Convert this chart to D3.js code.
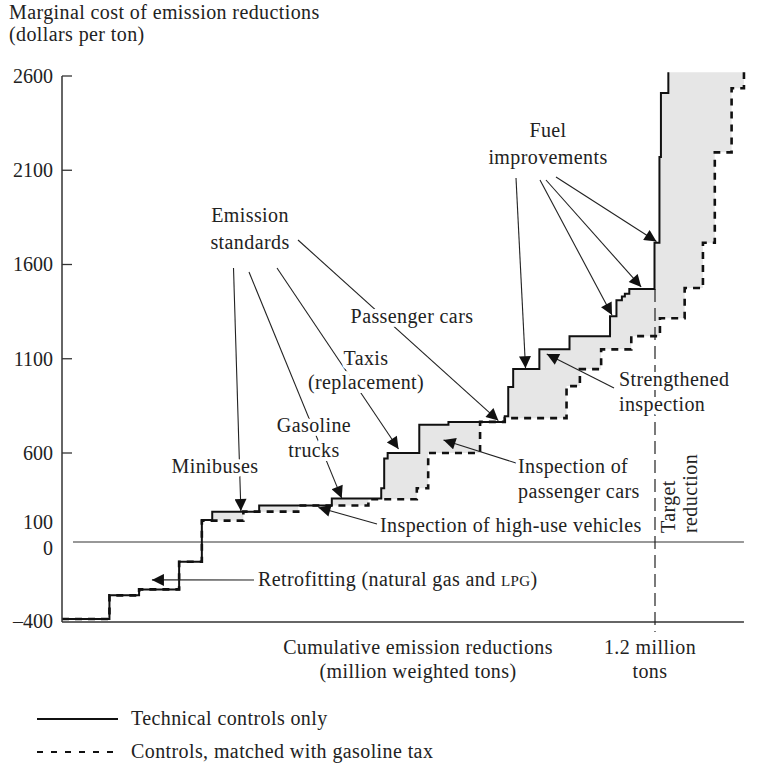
<!DOCTYPE html>
<html><head><meta charset="utf-8">
<script src="https://cdn.jsdelivr.net/npm/d3@7/dist/d3.min.js"></script>
<style>
body{margin:0;background:#fff;}
text{font-family:"Liberation Serif","Times New Roman",serif;fill:#222;letter-spacing:0.4px;}
</style></head>
<body><svg id="c" width="782" height="764"></svg>
<script>
// ---- data (million weighted tons, dollars per ton) ----
const techX    = [0, 0.096, 0.156, 0.237, 0.283, 0.304, 0.399, 0.546, 0.646, 0.652, 0.659, 0.723, 0.782, 0.896, 0.903, 0.913, 0.966, 1.027, 1.109, 1.122, 1.133, 1.139, 1.148, 1.199, 1.209, 1.212, 1.227];
const techCost = [-390, -270, -240, -100, 115, 175, 220, 270, 345, 560, 600, 750, 765, 795, 950, 1045, 1150, 1220, 1325, 1410, 1430, 1445, 1470, 1715, 2170, 2510, 2620];
const taxX     = [0, 0.096, 0.156, 0.237, 0.283, 0.367, 0.478, 0.620, 0.718, 0.741, 0.846, 0.896, 1.021, 1.048, 1.091, 1.152, 1.210, 1.260, 1.297, 1.321, 1.355, 1.380];
const taxCost  = [-390, -270, -240, -100, 110, 175, 220, 265, 345, 600, 765, 785, 955, 1045, 1150, 1220, 1315, 1475, 1715, 2195, 2535, 2620];
const yTickValues = [2600, 2100, 1600, 1100, 600, 100, 0, -400];
const yTickLabels = ["2600", "2100", "1600", "1100", "600", "100", "0", "\u2013400"];
const yTickMarks  = [2600, 2100, 1600, 1100, 600];
const targetReduction = 1.2;
const xMax = 1.38;
// annotation arrow tips, in data units [x, cost]
const arrowTips = {
  minibuses:[0.362,180], trucks:[0.566,273], taxis:[0.681,621], passenger:[0.883,772],
  fuel1:[0.938,1050], fuel2:[1.113,1332], fuel3:[1.172,1481], fuel4:[1.203,1722],
  strength:[0.981,1125], inspPC:[0.772,669], highUse:[0.519,205], retro:[0.182,-192]
};

const svg = d3.select("#c");
const x = d3.scaleLinear().domain([0, targetReduction]).range([62, 655]);
const y = d3.scaleLinear().domain([-400, 0, 100, 600, 2600]).range([621, 542, 522, 453, 76]);

function expand(xs, ys){
  const p=[];
  for(let i=0;i<xs.length;i++){ p.push([xs[i],ys[i]]); if(i+1<xs.length) p.push([xs[i+1],ys[i]]); }
  return p;
}
const poly = expand(techX, techCost).concat(expand(taxX, taxCost).reverse());
const lineXY = d3.line().x(d=>x(d[0])).y(d=>y(d[1]));
svg.append("path").attr("d", lineXY(poly)+"Z").attr("fill","#e6e6e6").attr("stroke","none");

// zero line & bottom axis
svg.append("line").attr("x1",73).attr("x2",x(xMax)).attr("y1",y(0)).attr("y2",y(0)).attr("stroke","#333").attr("stroke-width",1.2);
svg.append("line").attr("x1",x(0)).attr("x2",x(xMax)).attr("y1",y(-400)+1).attr("y2",y(-400)+1).attr("stroke","#333").attr("stroke-width",1.5);
// target line
svg.append("line").attr("x1",x(targetReduction)).attr("x2",x(targetReduction)).attr("y1",y(1470)).attr("y2",y(-400)+11)
  .attr("stroke","#222").attr("stroke-width",1.2).attr("stroke-dasharray","13,6");

const step = d3.line().x(d=>x(d[0])).y(d=>y(d[1])).curve(d3.curveStepAfter);
svg.append("path").datum(taxX.map((v,i)=>[v,taxCost[i]])).attr("d",step).attr("fill","none")
  .attr("stroke","#111").attr("stroke-width",2.6).attr("stroke-dasharray","7,6");
svg.append("path").datum(techX.map((v,i)=>[v,techCost[i]])).attr("d",step).attr("fill","none")
  .attr("stroke","#111").attr("stroke-width",2);

// y axis
const ax = svg.append("g").attr("transform",`translate(${x(0)},0)`)
  .call(d3.axisLeft(y).tickValues(yTickValues).tickSize(0).tickFormat((d,i)=>yTickLabels[i]));
ax.select(".domain").remove();
ax.append("line").attr("y1",y(2600)).attr("y2",y(-400)+1).attr("stroke","#333").attr("stroke-width",1.5);
ax.selectAll(".tick text").attr("x",-9).style("font-size","20px").style("font-family","Liberation Serif").style("letter-spacing","0px").attr("fill","#222")
  .attr("dy",d=> d===0 ? "0.6em" : "0.32em");
yTickMarks.forEach(v=>ax.append("line").attr("x1",0).attr("x2",10).attr("y1",y(v)).attr("y2",y(v)).attr("stroke","#333").attr("stroke-width",1.3));

// arrow marker
svg.append("defs").append("marker").attr("id","ah").attr("viewBox","0 0 10 10").attr("refX",10).attr("refY",5)
  .attr("markerWidth",14).attr("markerHeight",12).attr("markerUnits","userSpaceOnUse").attr("orient","auto")
  .append("path").attr("d","M0,0L10,5L0,10Z").attr("fill","#111");

const arrows = [
  [233.5,268,"minibuses"],[249,272,"trucks"],[277,268,"taxis"],[298,240,"passenger"],
  [516,178,"fuel1"],[540,180,"fuel2"],[546,180,"fuel3"],[556,177,"fuel4"],
  [614,388,"strength"],[516,463,"inspPC"],[377,524,"highUse"],[254,580,"retro"]
];
arrows.forEach(a=>{
  const t=arrowTips[a[2]];
  svg.append("line").attr("x1",a[0]).attr("y1",a[1]).attr("x2",x(t[0])).attr("y2",y(t[1]))
    .attr("stroke","#222").attr("stroke-width",1.1).attr("marker-end","url(#ah)");
});

function label(lines, px, py, anchor, halo, lh){
  const t = svg.append("text").attr("x",px).attr("y",py).attr("text-anchor",anchor||"middle").style("font-size","20px");
  if(halo) t.attr("stroke","#fff").attr("stroke-width",8).attr("paint-order","stroke").attr("stroke-linejoin","round");
  lines.forEach((s,i)=>t.append("tspan").attr("x",px).attr("dy", i===0 ? "0.32em" : (lh||25)+"px").text(s));
  return t;
}
svg.append("text").attr("x",9).attr("y",19).style("font-size","20px").text("Marginal cost of emission reductions");
svg.append("text").attr("x",9).attr("y",41).style("font-size","20px").text("(dollars per ton)");

label(["Fuel","improvements"],548,131,"middle",true,27);
label(["Emission","standards"],250,216,"middle",true,27);
label(["Passenger cars"],412,317,"middle",true);
label(["Taxis","(replacement)"],366,359,"middle",true,24);
label(["Gasoline","trucks"],314,426,"middle",true,25);
label(["Minibuses"],215,467,"middle",true);
label(["Strengthened","inspection"],619,380,"start",true,25);
label(["Inspection of","passenger cars"],518,467,"start",true,25);
label(["Inspection of high-use vehicles"],380,526,"start",true);
const rt = svg.append("text").attr("x",258).attr("y",580).attr("dy","0.32em").style("font-size","20px");
rt.append("tspan").text("Retrofitting (natural gas and ");
rt.append("tspan").style("font-size","15px").text("LPG");
rt.append("tspan").text(")");

svg.append("text").attr("transform",`translate(675,533) rotate(-90)`).style("font-size","20px").text("Target");
svg.append("text").attr("transform",`translate(697,533) rotate(-90)`).style("font-size","20px").text("reduction");

label(["Cumulative emission reductions","(million weighted tons)"],418,648,"middle",false,24);
label(["1.2 million","tons"],650,648,"middle",false,24);

// legend
svg.append("line").attr("x1",37).attr("x2",118).attr("y1",719).attr("y2",719).attr("stroke","#111").attr("stroke-width",2.2);
svg.append("line").attr("x1",37).attr("x2",120).attr("y1",752).attr("y2",752).attr("stroke","#111").attr("stroke-width",2.2).attr("stroke-dasharray","6,8");
label(["Technical controls only"],131,719,"start");
label(["Controls, matched with gasoline tax"],131,752,"start");
</script></body></html>
